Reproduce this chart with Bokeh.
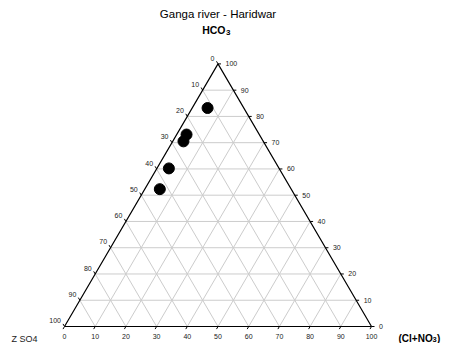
from bokeh.plotting import figure
from bokeh.models import Range1d
from bokeh.core.properties import value
from bokeh.embed import file_html
from bokeh.resources import INLINE

# ---- data (percent) ----
hco3 = [83.2, 73.1, 70.5, 60.2, 52.3]
cl_no3 = [5.0, 3.2, 3.5, 3.9, 4.9]
so4 = [11.8, 23.7, 26.0, 35.9, 42.8]
ticks = [0, 10, 20, 30, 40, 50, 60, 70, 80, 90, 100]
title = "Ganga river - Haridwar"

# ---- layout constants ----
W, H = 443, 343
PX = 1 / 307.0      # data units per screen px (x)
PY = 1 / 262.6      # data units per screen px (y)
FONT = "Liberation Sans"

x0 = -64 * PX
y1 = 326 * PY
p = figure(width=W, height=H, output_backend="svg", toolbar_location=None,
           x_range=Range1d(x0, x0 + W * PX), y_range=Range1d(y1 - H * PY, y1),
           x_axis_type=None, y_axis_type=None, min_border=0,
           outline_line_color=None, background_fill_color="white")
p.grid.visible = False


def tern(cl, h):
    """cl, h as fractions -> cartesian x, y"""
    return cl + h / 2.0, h


# ---- grid ----
gx, gy = [], []
for t in ticks[1:-1]:
    f = t / 100.0
    a = tern(0, f); b = tern(1 - f, f)
    gx.append([a[0], b[0]]); gy.append([a[1], b[1]])
    a = tern(f, 0); b = tern(f, 1 - f)
    gx.append([a[0], b[0]]); gy.append([a[1], b[1]])
    a = tern(0, 1 - f); b = tern(1 - f, 0)
    gx.append([a[0], b[0]]); gy.append([a[1], b[1]])
p.multi_line(gx, gy, line_color="#cccccc", line_width=1)

# ---- triangle edges ----
A = tern(0, 0); B = tern(1, 0); C = tern(0, 1)
p.line([A[0], B[0], C[0], A[0]], [A[1], B[1], C[1], A[1]],
       line_color="black", line_width=1.2)

# ---- ticks ----
tx, ty = [], []
for t in ticks:
    f = t / 100.0
    e = tern(1 - f, f)
    tx.append([e[0], e[0] + 3 * PX]); ty.append([e[1], e[1]])
    e = tern(f, 0)
    tx.append([e[0], e[0] - 1.5 * PX]); ty.append([e[1], e[1] - 2.6 * PY])
    e = tern(0, 1 - f)
    tx.append([e[0], e[0] - 1.5 * PX]); ty.append([e[1], e[1] + 2.6 * PY])
p.multi_line(tx, ty, line_color="black", line_width=1)

# ---- tick labels ----
labs = [str(t) for t in ticks]
lx = [tern(0, 1 - t / 100.0)[0] - 3.5 * PX for t in ticks]
ly = [tern(0, 1 - t / 100.0)[1] + 5.8 * PY for t in ticks]
p.text(lx, ly, text=labs, text_font=value(FONT), text_font_size="7px",
       text_align="right", text_baseline="middle", text_color="#222222")
rx = [tern(1 - t / 100.0, t / 100.0)[0] + 7.5 * PX for t in ticks]
ry = [tern(1 - t / 100.0, t / 100.0)[1] for t in ticks]
p.text(rx, ry, text=labs, text_font=value(FONT), text_font_size="7px",
       text_align="left", text_baseline="middle", text_color="#222222")
bx = [tern(t / 100.0, 0)[0] for t in ticks]
by = [tern(t / 100.0, 0)[1] - 10 * PY for t in ticks]
p.text(bx, by, text=labs, text_font=value(FONT), text_font_size="7px",
       text_align="center", text_baseline="middle", text_color="#222222")

# ---- points ----
px_ = [c / 100.0 + h / 200.0 for c, h in zip(cl_no3, hco3)]
py_ = [h / 100.0 for h in hco3]
p.scatter(px_, py_, size=11, marker="circle", fill_color="black", line_color="black")

# ---- titles / axis names ----
top = tern(0, 1)
p.text([top[0]], [top[1] + 49.5 * PY], text=[title], text_font=value(FONT),
       text_font_size="11.5px", text_align="center", text_baseline="middle",
       text_color="black")
p.text([top[0]], [top[1] + 34 * PY], text=["HCO"], text_font=value(FONT),
       text_font_size="10.5px", text_font_style="bold", text_align="right",
       text_baseline="middle", text_color="black", x_offset=7.5)
p.text([top[0]], [top[1] + 31 * PY], text=["3"], text_font=value(FONT),
       text_font_size="8px", text_font_style="bold", text_align="left",
       text_baseline="middle", text_color="black", x_offset=8)

right = tern(1, 0)
yl = right[1] - 12 * PY
p.text([right[0]], [yl], text=["(Cl+NO"], text_font=value(FONT),
       text_font_size="10px", text_font_style="bold", text_align="left",
       text_baseline="middle", text_color="black", x_offset=27)
p.text([right[0]], [yl - 1 * PY], text=["3"], text_font=value(FONT),
       text_font_size="7.5px", text_font_style="bold", text_align="left",
       text_baseline="middle", text_color="black", x_offset=61)
p.text([right[0]], [yl], text=[")"], text_font=value(FONT),
       text_font_size="10px", text_font_style="bold", text_align="left",
       text_baseline="middle", text_color="black", x_offset=65.5)

left = tern(0, 0)
p.text([left[0]], [left[1] - 12 * PY], text=["Z SO4"], text_font=value(FONT),
       text_font_size="9px", text_align="left", text_baseline="middle",
       text_color="#222222", x_offset=-53)

open("out.html", "w").write(file_html(p, INLINE))
